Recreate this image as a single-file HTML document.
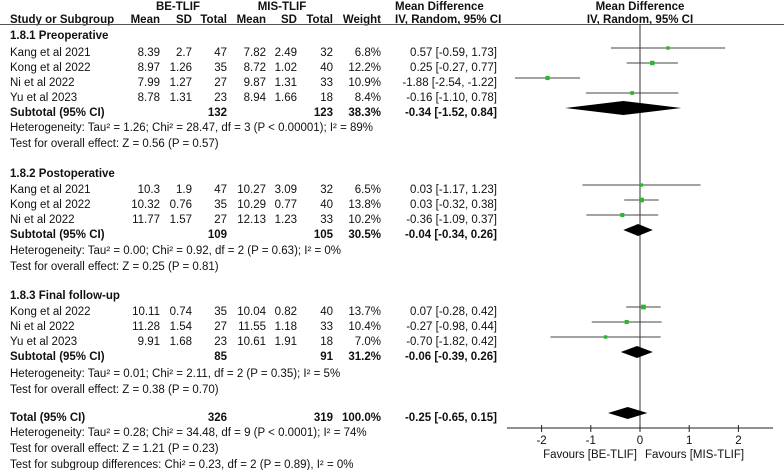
<!DOCTYPE html>
<html><head><meta charset="utf-8"><style>
body{margin:0;background:#fff;}
svg{display:block;font-family:"Liberation Sans",Arial,sans-serif;font-size:11.5px;fill:#111;}
.b{font-weight:bold;}
</style></head><body>
<svg id="c" width="784" height="470" viewBox="0 0 784 470"></svg>
<script>
const studies=["Kang et al 2021","Kong et al 2022","Ni et al 2022","Yu et al 2023","Kang et al 2021","Kong et al 2022","Ni et al 2022","Kong et al 2022","Ni et al 2022","Yu et al 2023"];
const beMean=["8.39","8.97","7.99","8.78","10.3","10.32","11.77","10.11","11.28","9.91"];
const beSD=["2.7","1.26","1.27","1.31","1.9","0.76","1.57","0.74","1.54","1.68"];
const beN=["47","35","27","23","47","35","27","35","27","23"];
const misMean=["7.82","8.72","9.87","8.94","10.27","10.29","12.13","10.04","11.55","10.61"];
const misSD=["2.49","1.02","1.31","1.66","3.09","0.77","1.23","0.82","1.18","1.91"];
const misN=["32","40","33","18","32","40","33","40","33","18"];
const weights=[6.8,12.2,10.9,8.4,6.5,13.8,10.2,13.7,10.4,7.0];
const md=[0.57,0.25,-1.88,-0.16,0.03,0.03,-0.36,0.07,-0.27,-0.70];
const lo=[-0.59,-0.27,-2.54,-1.10,-1.17,-0.32,-1.09,-0.28,-0.98,-1.82];
const hi=[1.73,0.77,-1.22,0.78,1.23,0.38,0.37,0.42,0.44,0.42];
const rowY=[48,63,78,93,185,200,215,307,322,337];
const subMd=[-0.34,-0.04,-0.06,-0.25];
const subLo=[-1.52,-0.34,-0.39,-0.65];
const subHi=[0.84,0.26,0.26,0.15];
const subBe=["132","109","85","326"];
const subMis=["123","105","91","319"];
const subW=["38.3%","30.5%","31.2%","100.0%"];
const subLabel=["Subtotal (95% CI)","Subtotal (95% CI)","Subtotal (95% CI)","Total (95% CI)"];
const subY=[108,230,352,413];
const ticks=[-2,-1,0,1,2];
const svg=document.getElementById('c');
const NS='http://www.w3.org/2000/svg';
const xs=v=>640+v*49.2;
function mk(tag,attrs,name,text){const e=document.createElementNS(NS,tag);for(const k in attrs)e.setAttribute(k,attrs[k]);


if(text!==undefined)e.textContent=text;svg.appendChild(e);return e;}
function t(x,y,s,name,anchor,bold){const e=mk('text',{x:x,y:y,'text-anchor':anchor||'start'},name,s);if(bold)e.setAttribute('class','b');return e;}
const f=v=>(v<0?'-':'')+Math.abs(v).toFixed(2);
// headers
t(178,10,"BE-TLIF","header-be-tlif","middle",1);
t(282,10,"MIS-TLIF","header-mis-tlif","middle",1);
t(395,10,"Mean Difference","header-md","start",1);
t(395,23,"IV, Random, 95% CI","header-md-method","start",1);
t(640,10,"Mean Difference","plot-header","middle",1);
t(640,23,"IV, Random, 95% CI","plot-header-method","middle",1);
t(10,23,"Study or Subgroup","header-study","start",1);
[["Mean",160],["SD",192],["Total",227],["Mean",266],["SD",297],["Total",333],["Weight",381]].forEach((h,i)=>t(h[1],23,h[0],"header-col-"+i,"end",1));
mk('line',{x1:0,y1:24.5,x2:784,y2:24.5,stroke:'#555','stroke-width':1},'header-rule');
// subgroup headings and tests
t(10,39,"1.8.1 Preoperative","subgroup-preoperative","start",1);
t(10,177,"1.8.2 Postoperative","subgroup-postoperative","start",1);
t(10,299,"1.8.3 Final follow-up","subgroup-final","start",1);
const notes=[[131,"Heterogeneity: Tau² = 1.26; Chi² = 28.47, df = 3 (P < 0.00001); I² = 89%"],[147,"Test for overall effect: Z = 0.56 (P = 0.57)"],
[254,"Heterogeneity: Tau² = 0.00; Chi² = 0.92, df = 2 (P = 0.63); I² = 0%"],[270,"Test for overall effect: Z = 0.25 (P = 0.81)"],
[377,"Heterogeneity: Tau² = 0.01; Chi² = 2.11, df = 2 (P = 0.35); I² = 5%"],[393,"Test for overall effect: Z = 0.38 (P = 0.70)"],
[436,"Heterogeneity: Tau² = 0.28; Chi² = 34.48, df = 9 (P < 0.0001); I² = 74%"],[452,"Test for overall effect: Z = 1.21 (P = 0.23)"],
[468,"Test for subgroup differences: Chi² = 0.23, df = 2 (P = 0.89), I² = 0%"]];
notes.forEach((n,i)=>t(10,n[0],n[1],"note-"+i));
// zero line
mk('line',{x1:xs(0),y1:24,x2:xs(0),y2:428,stroke:'#333','stroke-width':1},'zero-line');
// studies
studies.forEach((s,i)=>{const y=rowY[i],b=y+8;
t(10,b,s,"study-name");t(160,b,beMean[i],"be-mean","end");t(192,b,beSD[i],"be-sd","end");t(227,b,beN[i],"be-total","end");
t(266,b,misMean[i],"mis-mean","end");t(297,b,misSD[i],"mis-sd","end");t(333,b,misN[i],"mis-total","end");
t(381,b,weights[i].toFixed(1)+"%","weight","end");
t(497,b,md[i].toFixed(2)+" ["+f(lo[i])+", "+f(hi[i])+"]","md-ci","end");
mk('line',{x1:xs(lo[i]),y1:y,x2:xs(hi[i]),y2:y,stroke:'#444','stroke-width':1},'ci-line');
const sz=2+weights[i]*0.2;
mk('rect',{x:xs(md[i])-sz/2,y:y-sz/2,width:sz,height:sz,fill:'#2db52d'},'effect-marker');});
// subtotals
subMd.forEach((m,i)=>{const y=subY[i],b=y+8;
t(10,b,subLabel[i],"subtotal-label","start",1);t(227,b,subBe[i],"subtotal-be","end",1);t(333,b,subMis[i],"subtotal-mis","end",1);
t(381,b,subW[i],"subtotal-weight","end",1);
t(497,b,f(m)+" ["+f(subLo[i])+", "+f(subHi[i])+"]","subtotal-md-ci","end",1);
const h=i==0?7:6;
mk('polygon',{points:`${xs(subLo[i])},${y} ${xs(m)},${y-h} ${xs(subHi[i])},${y} ${xs(m)},${y+h}`,fill:'#000'},'summary-diamond');});
// axis
mk('line',{x1:507,y1:428,x2:773,y2:428,stroke:'#222','stroke-width':1},'x-axis');
ticks.forEach(v=>{mk('line',{x1:xs(v),y1:425,x2:xs(v),y2:432,stroke:'#222','stroke-width':1},'x-tick');
t(xs(v),444,String(v),"x-tick-label","middle");});
t(637,458,"Favours [BE-TLIF]","favours-be","end");
t(645,458,"Favours [MIS-TLIF]","favours-mis","start");
</script>
</body></html>
